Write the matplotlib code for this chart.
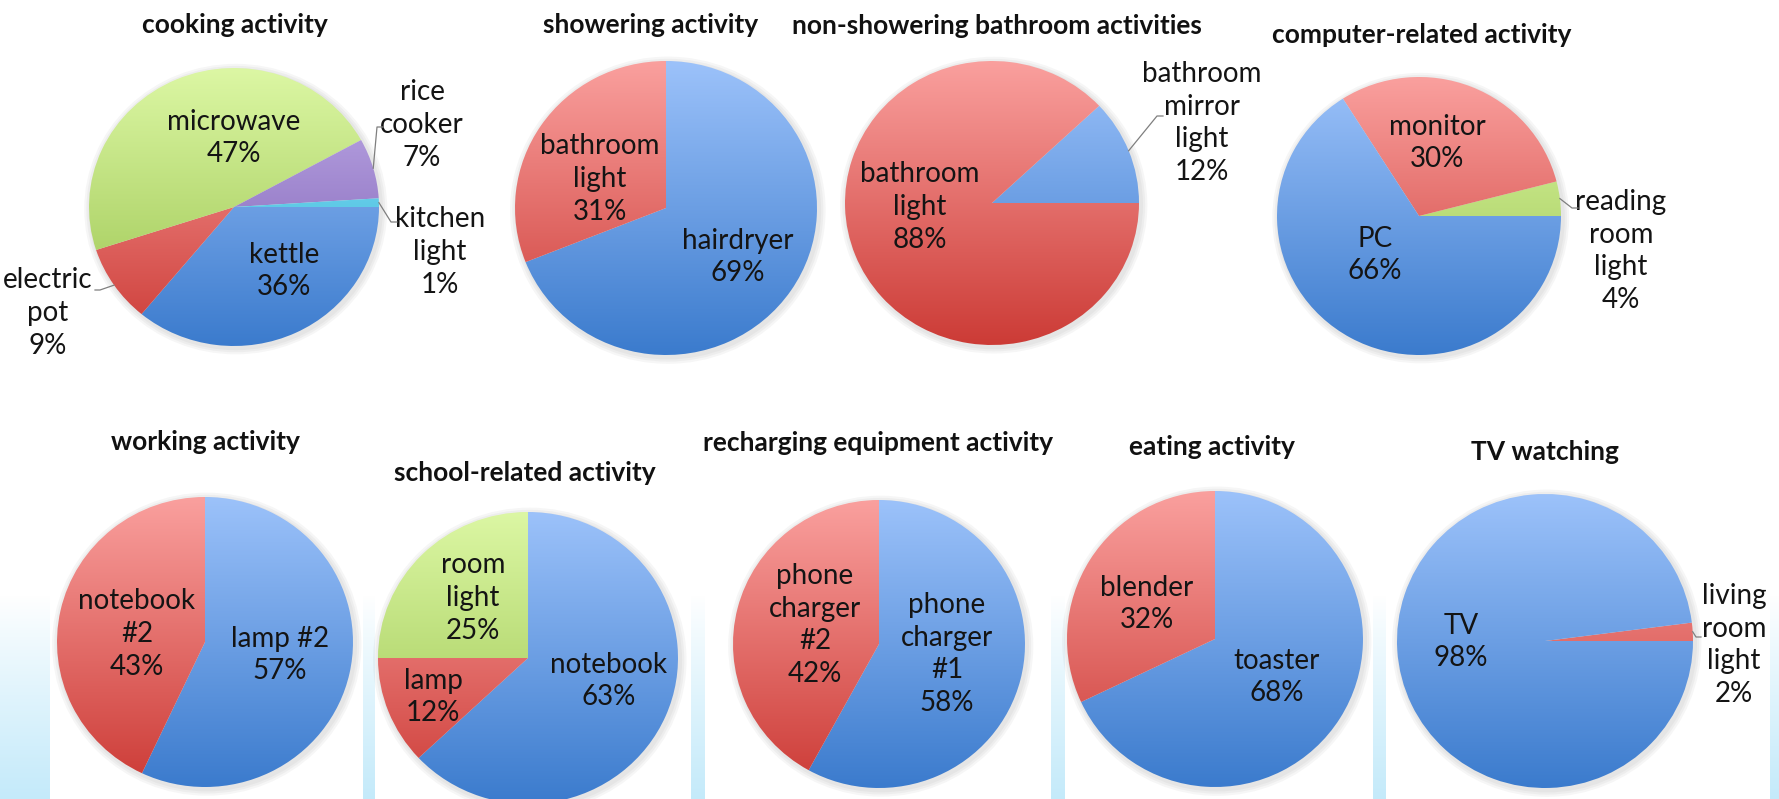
import numpy as np
import matplotlib
matplotlib.use("Agg")
import matplotlib.pyplot as plt
from matplotlib.colors import LinearSegmentedColormap
from matplotlib.lines import Line2D
from matplotlib.patches import Ellipse

W, H = 1779, 799
DPI = 100

# ---- data ----
cooking_labels = ["kettle", "electric\npot", "microwave", "rice\ncooker", "kitchen\nlight"]
cooking_values = [36, 9, 47, 7, 1]

shower_labels = ["hairdryer", "bathroom\nlight"]
shower_values = [69, 31]

bath_labels = ["bathroom\nmirror\nlight", "bathroom\nlight"]
bath_values = [12, 88]

computer_labels = ["reading\nroom\nlight", "monitor", "PC"]
computer_values = [4, 30, 66]

working_labels = ["lamp #2", "notebook\n#2"]
working_values = [57, 43]

school_labels = ["notebook", "lamp", "room\nlight"]
school_values = [63, 12, 25]

charging_labels = ["phone\ncharger\n#1", "phone\ncharger\n#2"]
charging_values = [58, 42]

eating_labels = ["toaster", "blender"]
eating_values = [68, 32]

tv_labels = ["living\nroom\nlight", "TV"]
tv_values = [2, 98]

# ---- colour gradients (top, bottom) ----
GRAD = {
    "blue": ("#9cc2fa", "#3b7bcd"),
    "red": ("#faa09e", "#cc3b36"),
    "green": ("#dcf7a4", "#98c24c"),
    "purple": ("#c2aeea", "#7658ae"),
    "cyan": ("#8fe4f7", "#2fb0d6"),
}

# layout in pixels: centre, radii, start angle, direction, title, label centres, leaders
pies = [
    dict(title="cooking activity", tpos=(235, 25), labels=cooking_labels, values=cooking_values,
         colors=["blue", "red", "green", "purple", "cyan"], c=(234, 207), r=(145, 139),
         start=0, ccw=False,
         lpos=[(284, 271), (48, 313), (234, 138), (422, 125), (440, 252)],
         leaders={1: [(100, 290), (95, 290)], 3: [(377, 127), (383, 127)],
                  4: [(391, 222), (397, 222)]}),
    dict(title="showering activity", tpos=(651, 25), labels=shower_labels, values=shower_values,
         colors=["blue", "red"], c=(666, 208), r=(151, 147), start=90, ccw=False,
         lpos=[(738, 257), (600, 179)], leaders={}),
    dict(title="non-showering bathroom activities", tpos=(997, 26), labels=bath_labels,
         values=bath_values, colors=["blue", "red"], c=(992, 203), r=(147, 142),
         start=0, ccw=True, lpos=[(1202, 123), (920, 207)],
         leaders={0: [(1157, 116), (1163, 116)]}),
    dict(title="computer-related activity", tpos=(1422, 35), labels=computer_labels,
         values=computer_values, colors=["green", "red", "blue"], c=(1419, 216), r=(142, 139),
         start=0, ccw=True, lpos=[(1621, 251), (1437, 143), (1375, 255)],
         leaders={0: [(1572, 208), (1578, 208)]}),
    dict(title="working activity", tpos=(205, 442), labels=working_labels, values=working_values,
         colors=["blue", "red"], c=(205, 642), r=(148, 145), start=90, ccw=False,
         lpos=[(280, 655), (137, 634)], leaders={}),
    dict(title="school-related activity", tpos=(525, 473), labels=school_labels,
         values=school_values, colors=["blue", "red", "green"], c=(528, 658), r=(150, 146),
         start=90, ccw=False, lpos=[(609, 681), (433, 697), (473, 598)], leaders={}),
    dict(title="recharging equipment activity", tpos=(878, 443), labels=charging_labels,
         values=charging_values, colors=["blue", "red"], c=(879, 644), r=(146, 144),
         start=90, ccw=False, lpos=[(947, 654), (815, 625)], leaders={}),
    dict(title="eating activity", tpos=(1212, 447), labels=eating_labels, values=eating_values,
         colors=["blue", "red"], c=(1215, 639), r=(148, 148), start=90, ccw=False,
         lpos=[(1277, 677), (1147, 604)], leaders={}),
    dict(title="TV watching", tpos=(1545, 452), labels=tv_labels, values=tv_values,
         colors=["red", "blue"], c=(1545, 641), r=(148, 147), start=0, ccw=True,
         lpos=[(1734, 645), (1461, 642)], leaders={0: [(1696, 637), (1701, 637)]}),
]

FONT = ["Lato", "DejaVu Sans"]
LABEL_SIZE = 20
TITLE_SIZE = 19
TXT = "#141414"


def fx(x):
    return x / W


def fy(y):
    return 1 - y / H


fig = plt.figure(figsize=(W / DPI, H / DPI), dpi=DPI)
fig.patch.set_facecolor("white")

# background strips between bottom panels
bg = fig.add_axes([0, 0, 1, 1], zorder=0)
bg.set_axis_off()
img = np.ones((H, W, 3))
strip_cols = [(0, 50), (363, 375), (691, 705), (1051, 1065), (1373, 1386), (1770, 1779)]
cyan = np.array([196, 234, 250]) / 255.0
ramp = np.clip((np.arange(H) - 595) / (H - 595), 0, 1) ** 0.9
for a, b in strip_cols:
    img[:, a:b, :] = 1 - ramp[:, None, None] * (1 - cyan[None, None, :])
bg.imshow(img, extent=(0, W, H, 0), aspect="auto", interpolation="bilinear")
bg.set_xlim(0, W)
bg.set_ylim(H, 0)

grad = np.linspace(0, 1, 256).reshape(-1, 1)

for p in pies:
    cx, cy = p["c"]
    rx, ry = p["r"]
    m = 1.1
    ax = fig.add_axes([fx(cx - rx * m), fy(cy + ry * m), 2 * rx * m / W, 2 * ry * m / H], zorder=2)
    wedges, _ = ax.pie(p["values"], startangle=p["start"], counterclock=p["ccw"], radius=1,
                       wedgeprops=dict(linewidth=0))
    # soft shadow
    for s in [1.045, 1.03, 1.015]:
        sh = Ellipse((0.012, -0.015), 2 * s, 2 * s, facecolor="#808080", alpha=0.07,
                     edgecolor="none", zorder=0)
        ax.add_patch(sh)
    for w, cname in zip(wedges, p["colors"]):
        w.set_facecolor("none")
        w.set_edgecolor("none")
        cmap = LinearSegmentedColormap.from_list(cname, GRAD[cname])
        im = ax.imshow(grad, cmap=cmap, extent=(-1, 1, -1, 1), origin="upper",
                       interpolation="bicubic", zorder=1)
        im.set_clip_path(w)
    ax.set_aspect("auto")
    ax.set_xlim(-m, m)
    ax.set_ylim(-m, m)
    ax.set_axis_off()

    fig.text(fx(p["tpos"][0]), fy(p["tpos"][1]), p["title"], ha="center", va="center",
             fontsize=TITLE_SIZE, fontweight="bold", family=FONT, color="#111111", zorder=5)

    for i, (lab, val, pos) in enumerate(zip(p["labels"], p["values"], p["lpos"])):
        fig.text(fx(pos[0]), fy(pos[1]), f"{lab}\n{val}%", ha="center", va="center",
                 multialignment="center", fontsize=LABEL_SIZE, family=FONT, color=TXT,
                 linespacing=1.32, zorder=5)
        if i in p["leaders"]:
            w = wedges[i]
            mid = np.deg2rad((w.theta1 + w.theta2) / 2)
            px, py = ax.transData.transform((np.cos(mid), np.sin(mid)))
            xs = [px / W] + [fx(q[0]) for q in p["leaders"][i]]
            ys = [py / H] + [fy(q[1]) for q in p["leaders"][i]]
            fig.add_artist(Line2D(xs, ys, transform=fig.transFigure, color="#7f7f7f",
                                  linewidth=0.9, zorder=6))

fig.savefig("out.png", dpi=DPI, facecolor="white")
